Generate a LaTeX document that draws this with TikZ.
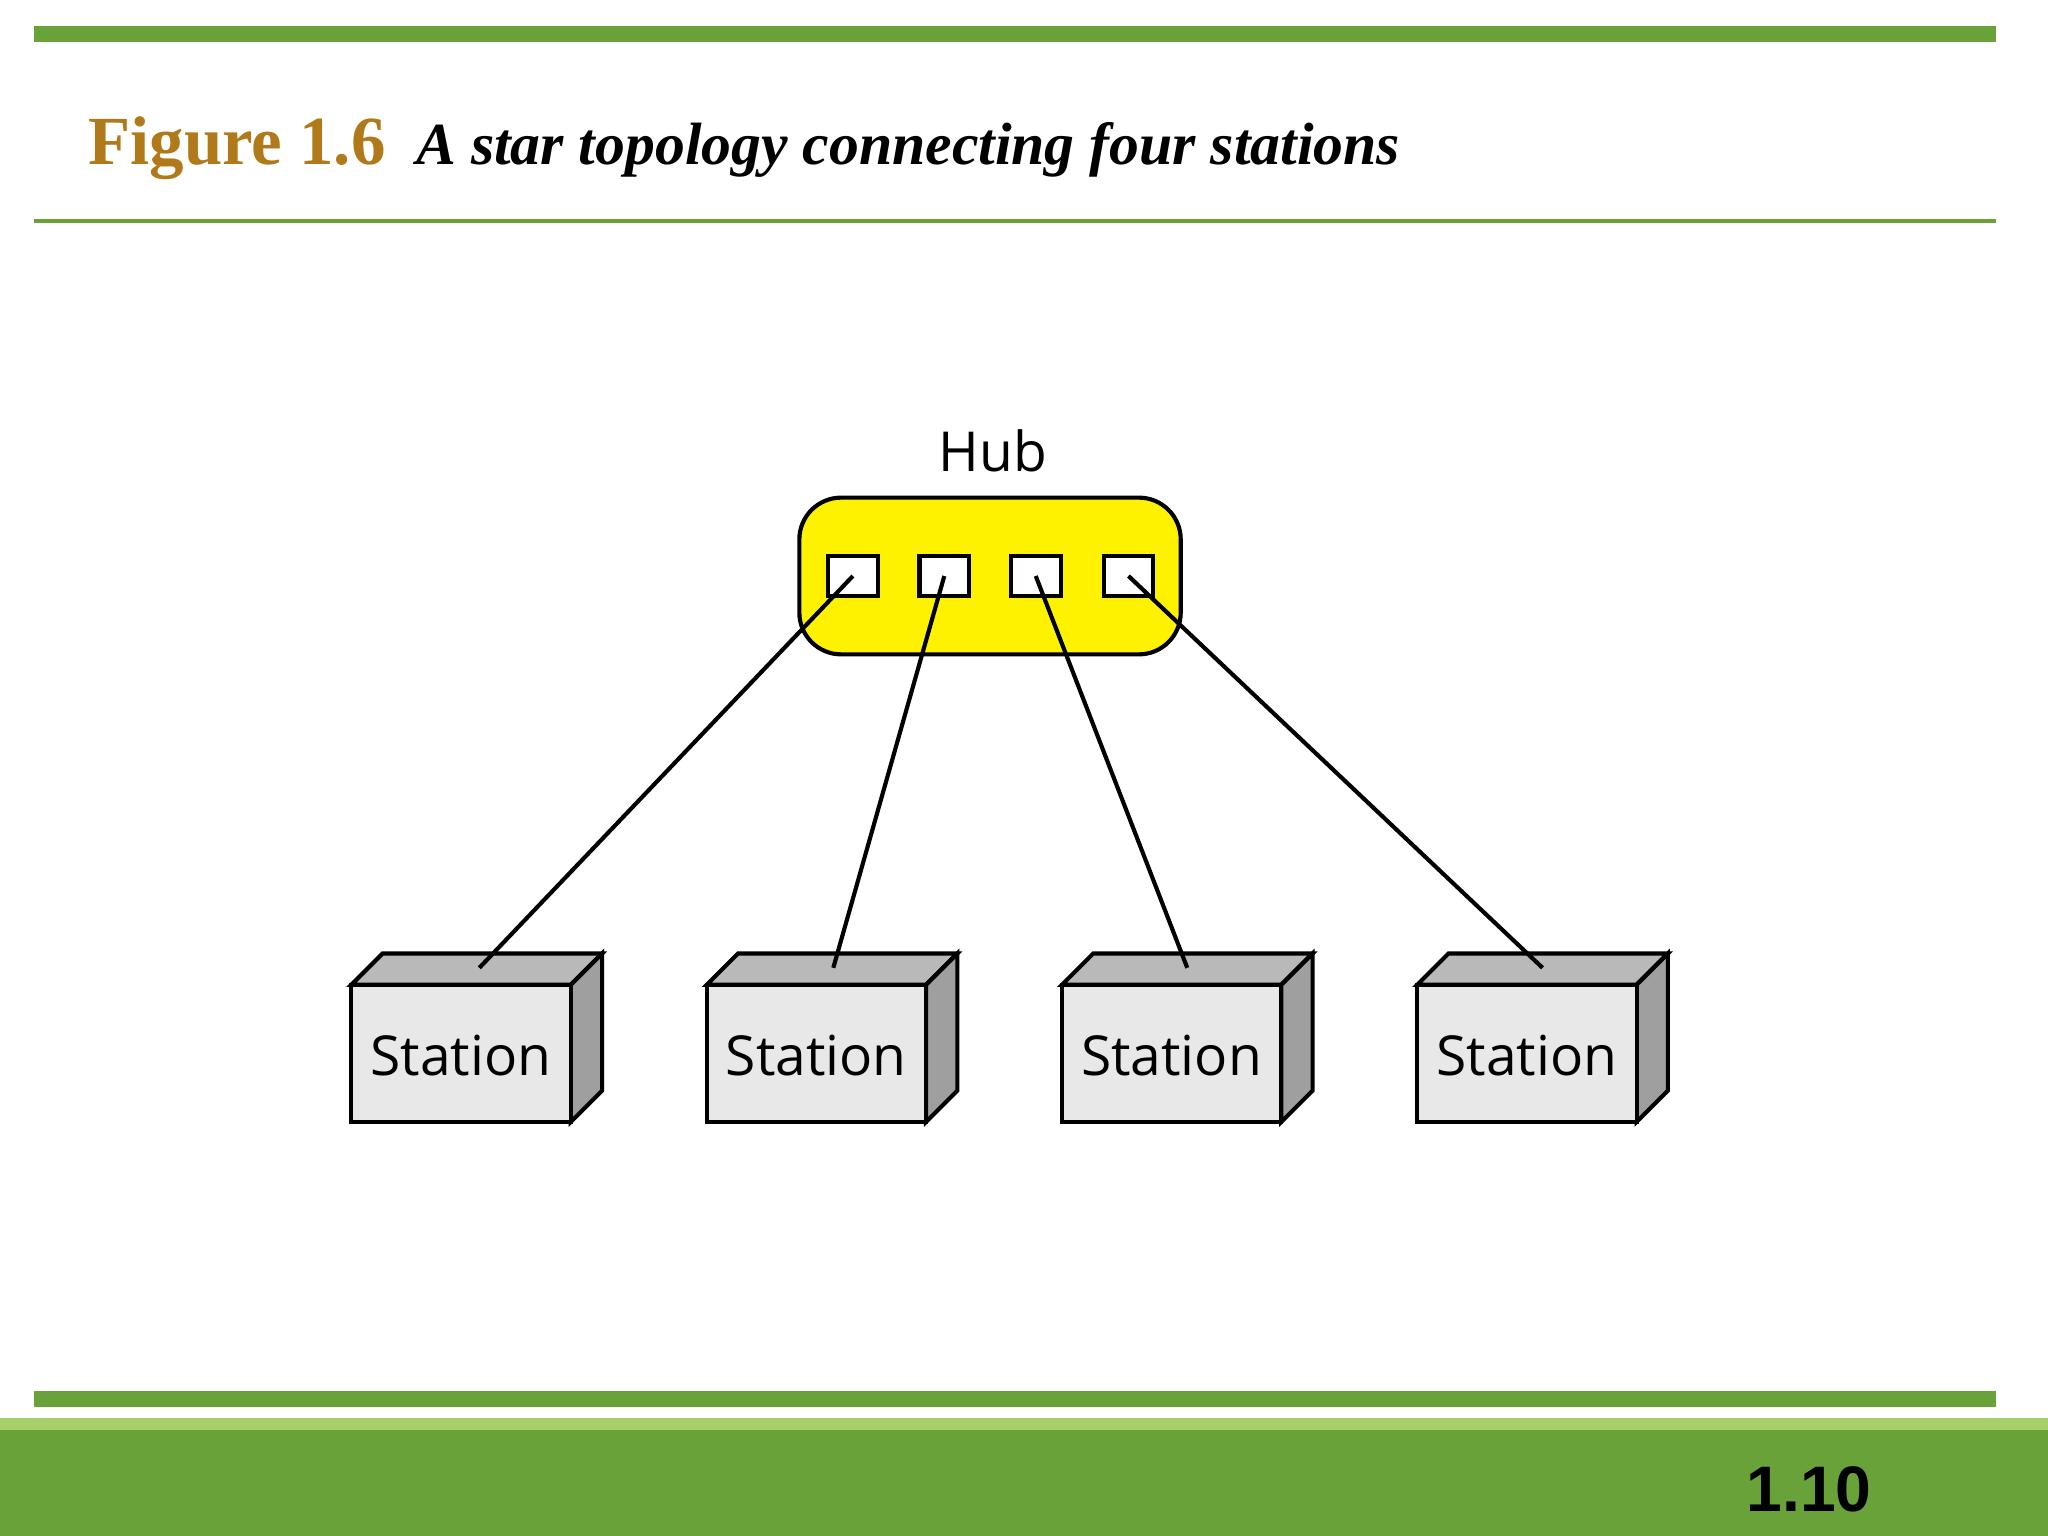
\documentclass[tikz,border=0pt]{standalone}
\usepackage{fontspec}
\setmainfont{Liberation Serif}
\newfontfamily\hubfont{Open Sans}
\newfontfamily\numfont{Liberation Sans}
\definecolor{barg}{HTML}{6AA23A}
\definecolor{lightg}{HTML}{A6D06A}
\definecolor{titleb}{HTML}{B07A1A}
\begin{document}
\begin{tikzpicture}[x=0.01cm,y=-0.01cm,
  port/.style={draw=black,line width=0.9pt,fill=white,minimum width=0.38cm,minimum height=0.31cm,inner sep=0},
  link/.style={line width=0.9pt,black},
  front/.style={draw=black,line width=0.9pt,fill=gray!18},
  st/.style={font=\hubfont\fontsize{12}{12}\selectfont}]
\useasboundingbox (0,0) rectangle (1568,1176);
\fill[white] (0,0) rectangle (1568,1176);
\fill[barg] (26,20) rectangle (1528,32);
\fill[barg] (26,168) rectangle (1528,171);
\node[anchor=base west,inner sep=0,font=\fontsize{15}{15}\selectfont\bfseries,text=titleb] (fig) at (67,126) {Figure 1.6};
\node[anchor=base west,inner sep=0,font=\fontsize{13}{13}\selectfont\bfseries\itshape] (cap) at (318,126) {A star topology connecting four stations};
% hub
\draw[line width=0.9pt,fill=yellow,rounded corners=0.32cm] (612,381) rectangle (904,501);
\node[font=\hubfont\fontsize{12}{12}\selectfont] (hub) at (760,345) {Hub};
\foreach \i/\x in {1/653,2/723,3/793,4/864} \node[port] (p\i) at (\x,441) {};
% stations
\foreach \i/\x in {1/269,2/541,3/813,4/1085}{
  \draw[line width=0.9pt,fill=gray!55] (\x,754) -- (\x+24,730) -- (\x+192,730) -- (\x+168,754) -- cycle;
  \draw[line width=0.9pt,fill=gray!100!black!75] (\x+168,754) -- (\x+192,730) -- (\x+192,835) -- (\x+168,859) -- cycle;
  \draw[front] (\x,754) rectangle (\x+168,859);
  \node[st] (s\i) at (\x+84,808) {Station};
}
\coordinate (e1) at (367,741);
\coordinate (e2) at (638,741);
\coordinate (e3) at (909,741);
\coordinate (e4) at (1181,741);
\foreach \i in {1,...,4} \draw[link] (p\i.center) -- (e\i);
% bottom
\fill[barg] (26,1065) rectangle (1528,1077);
\fill[lightg] (0,1086) rectangle (1568,1095);
\fill[barg] (0,1095) rectangle (1568,1176);
\node[font=\numfont\bfseries\fontsize{14}{14}\selectfont] (num) at (1385,1140) {1.10};
\end{tikzpicture}
\end{document}
